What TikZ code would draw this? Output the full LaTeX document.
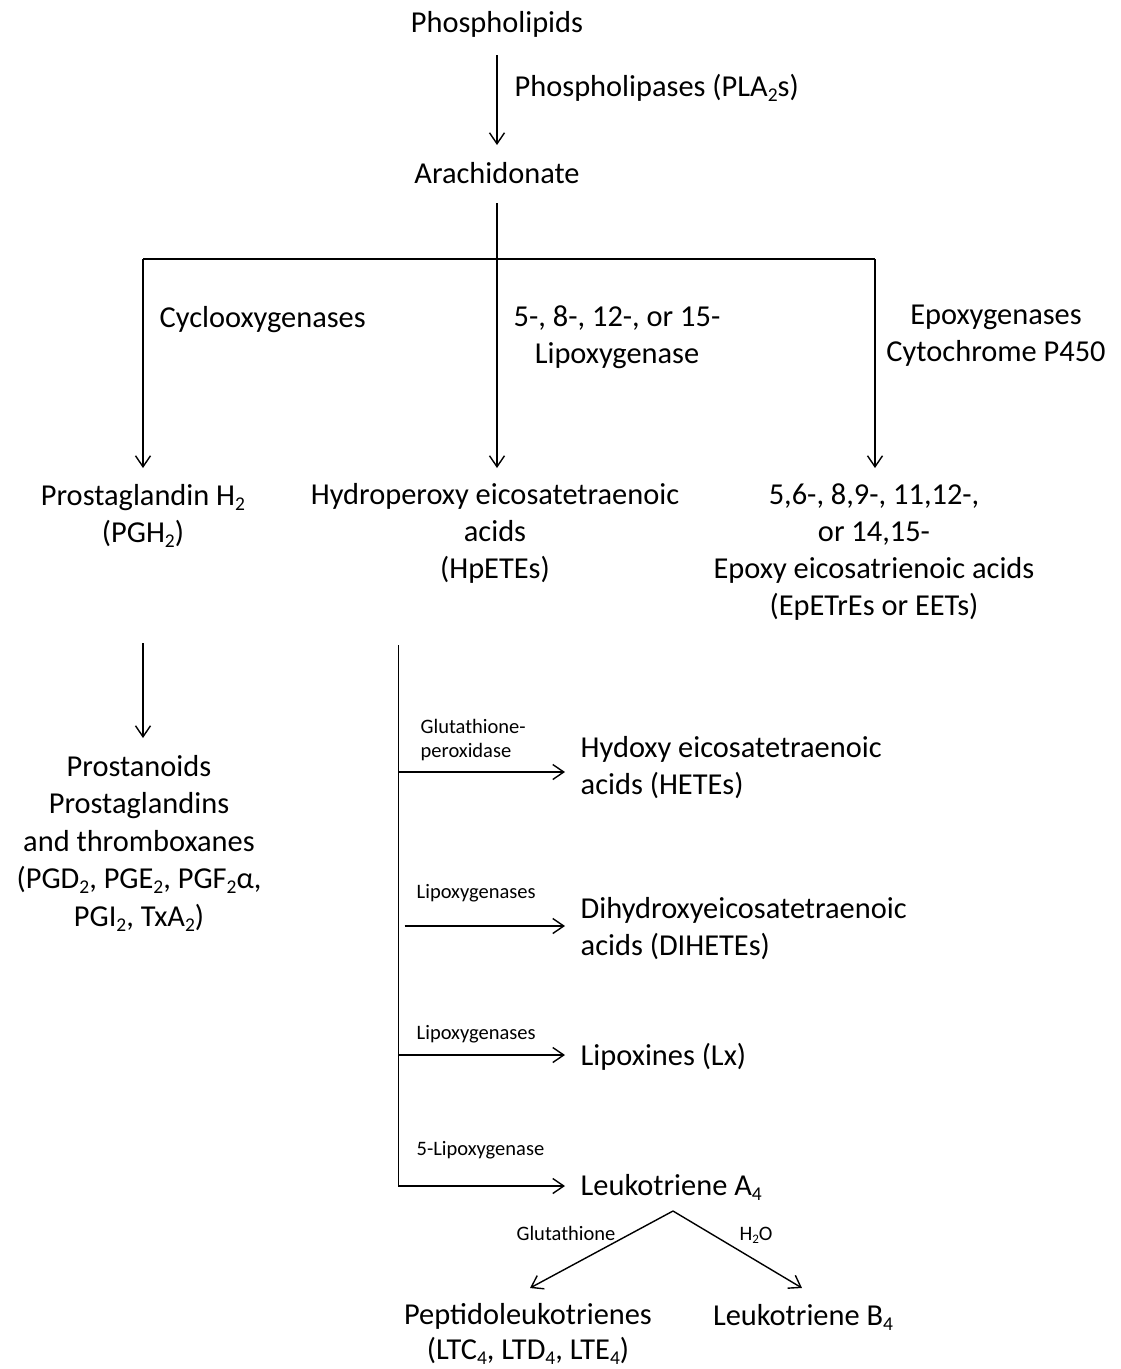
\documentclass[tikz,border=0pt]{standalone}
\usepackage{fontspec}
\setmainfont{Carlito}
\usetikzlibrary{arrows.meta,calc}
\newcommand\sbs[1]{\raisebox{-5pt}{\fontsize{19.5}{19.5}\selectfont #1}}
\newcommand\sbsm[1]{\raisebox{-3.5pt}{\fontsize{13}{13}\selectfont #1}}
\begin{document}
\begin{tikzpicture}[x=1pt,y=-1pt,line width=1.4pt,
  big/.style={font=\fontsize{30.4}{37}\selectfont, inner sep=0pt, anchor=base, align=center},
  bigl/.style={big, align=left, anchor=base west},
  small/.style={font=\fontsize{20.5}{23.5}\selectfont, inner sep=0pt, anchor=base west, align=left},
  arr/.style={-{Straight Barb[length=11pt,width=15pt]}}]
\useasboundingbox (0,0) rectangle (1121,1369);

% (base anchor of a multi-line node = baseline of its last line)
\node[big] (phos) at (497,32) {Phospholipids};
\node[bigl] (pla) at (514,96) {Phospholipases (PLA\sbs{2}s)};
\node[big] (arach) at (497,183) {Arachidonate};
\node[bigl] (cox) at (159,327) {Cyclooxygenases};
\node[big] (lox) at (617,363) {5-, 8-, 12-, or 15-\\Lipoxygenase};
\node[big] (epox) at (996,361) {Epoxygenases\\Cytochrome P450};
\node[big] (pgh) at (143,542) {Prostaglandin H\sbs{2}\\(PGH\sbs{2})};
\node[big] (hpete) at (495,578) {Hydroperoxy eicosatetraenoic\\acids\\(HpETEs)};
\node[big] (eet) at (874,615) {5,6-, 8,9-, 11,12-,\\or 14,15-\\Epoxy eicosatrienoic acids\\(EpETrEs or EETs)};
\node[big,font=\fontsize{30.4}{37.5}\selectfont] (prost) at (139,926) {Prostanoids\\Prostaglandins\\and thromboxanes\\(PGD\sbs{2}, PGE\sbs{2}, PGF\sbs{2}α,\\PGI\sbs{2}, TxA\sbs{2})};
\node[bigl] (hete) at (580,794) {Hydoxy eicosatetraenoic\\acids (HETEs)};
\node[bigl] (dihete) at (580,955) {Dihydroxyeicosatetraenoic\\acids (DIHETEs)};
\node[bigl] (lx) at (580,1065) {Lipoxines (Lx)};
\node[bigl] (lta) at (580,1195) {Leukotriene A\sbs{4}};
\node[big,font=\fontsize{30.4}{35}\selectfont] (pept) at (528,1359) {Peptidoleukotrienes\\(LTC\sbs{4}, LTD\sbs{4}, LTE\sbs{4})};
\node[big] (ltb) at (803,1325) {Leukotriene B\sbs{4}};

\node[small] (lgp) at (420,757) {Glutathione-\\peroxidase};
\node[small] (lox1) at (416,898) {Lipoxygenases};
\node[small] (lox2) at (416,1039) {Lipoxygenases};
\node[small] (lox5) at (416,1155) {5-Lipoxygenase};
\node[small,anchor=base] (lglu) at (566,1240) {Glutathione};
\node[small,anchor=base] (lh2o) at (756,1240) {H\sbsm{2}O};

% top
\draw[arr] ($(phos.base)+(0,23)$) -- ($(arach.base)+(0,-38)$);
\coordinate (br) at (497,259);
\coordinate (brl) at (143,259);
\coordinate (brr) at (875,259);
\draw (brl) -- (brr);
\draw[arr] ($(arach.base)+(0,20)$) -- ($(hpete.base -| arach.base)+(0,-110)$);
\draw[arr] (brl) -- ($(pgh.base -| brl)+(0,-74)$);
\draw[arr] (brr) -- ($(eet.base -| brr)+(0,-147)$);

% left
\draw[arr] ($(pgh.base)+(0,101)$) -- ($(prost.base -| pgh.base)+(0,-188)$);

% trunk
\coordinate (trunk) at (398.5,645);
\coordinate (h1) at ($(hete.base west)+(-15,-22)$);
\coordinate (d1) at ($(dihete.base west)+(-15,-29)$);
\coordinate (x1) at ($(lx.base west)+(-15,-10)$);
\coordinate (a1) at ($(lta.base west)+(-15,-9)$);
\draw[arr] (trunk) |- (a1);
\draw[arr] (trunk |- h1) -- (h1);
\draw[arr] ($(trunk |- d1)+(6,0)$) -- (d1);
\draw[arr] (trunk |- x1) -- (x1);

% bottom
\coordinate (apex) at ($(lta.base west)+(93,16)$);
\draw[arr] (apex) -- ($(pept.base)+(2,-71)$);
\draw[arr] (apex) -- ($(ltb.base)+(-1,-37)$);
\end{tikzpicture}
\end{document}
